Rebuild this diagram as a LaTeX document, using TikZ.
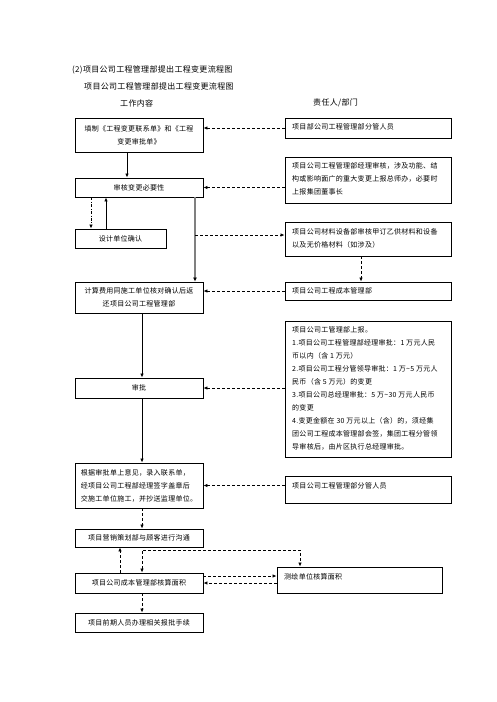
\documentclass[tikz,border=0pt]{standalone}
\usepackage{fontspec}
\newfontfamily\cjk[LetterSpace=4]{Noto Sans CJK SC}
\usetikzlibrary{arrows.meta}
\begin{document}
\begin{tikzpicture}[x=1pt,y=-1pt,
  box/.style={draw, line width=0.9pt, inner sep=0pt},
  txt/.style={font=\cjk\fontsize{7}{13}\selectfont, inner sep=0pt},
  ttl/.style={font=\cjk\fontsize{8}{10}\selectfont, inner sep=0pt, anchor=west},
  arr/.style={-{Latex[length=4pt,width=3.5pt]}, line width=0.8pt},
  dsh/.style={arr, dash pattern=on 3pt off 2pt},
  ddot/.style={arr, dash pattern=on 3pt off 1.5pt on 0.8pt off 1.5pt},
  gry/.style={arr, line width=2pt, draw=black!50, -{Latex[length=4pt,width=4pt,color=black]}}]
\useasboundingbox (0,0) rectangle (496,702);

% titles
\node[ttl] (t1) at (72,70) {(2)项目公司工程管理部提出工程变更流程图};
\node[ttl] (t2) at (84,86) {项目公司工程管理部提出工程变更流程图};
\node[ttl] (h1) at (120,103) {工作内容};
\node[ttl] (h2) at (313,103) {责任人/部门};

% left column
\node[box, txt, align=center, minimum width=128, minimum height=34] (L1) at (139,135)
  {填制《工程变更联系单》和《工程\\变更审批单》};
\node[box, txt, minimum width=128, minimum height=19] (L2) at (139,187.5) {审核变更必要性};
\node[box, txt, minimum width=91, minimum height=19] (L3) at (120.5,238.5) {设计单位确认};
\node[box, txt, align=center, minimum width=128, minimum height=31] (L4) at (139,297.5)
  {计算费用同施工单位核对确认后返\\还项目公司工程管理部};
\node[box, txt, minimum width=128, minimum height=20] (L5) at (139,388) {审批};
\node[box, txt, align=left, minimum width=128, minimum height=45] (L6) at (139,485.5)
  {根据审批单上意见，录入联系单，\\经项目公司工程部经理签字盖章后\\交施工单位施工，并抄送监理单位。};
\node[box, txt, minimum width=128, minimum height=18] (L7) at (139,538) {项目营销策划部与顾客进行沟通};
\node[box, txt, minimum width=128, minimum height=20] (L8) at (139,583) {项目公司成本管理部核算面积};
\node[box, txt, minimum width=128, minimum height=19] (L9) at (139,622.5) {项目前期人员办理相关报批手续};

% right column boxes
\node[box, minimum width=166, minimum height=20] (R1) at (368,128) {};
\node[box, minimum width=166, minimum height=46] (R2) at (368,180) {};
\node[box, minimum width=166, minimum height=34] (R3) at (368,239) {};
\node[box, minimum width=166, minimum height=18] (R4) at (368,291) {};
\node[box, minimum width=166, minimum height=136] (R5) at (368,389) {};
\node[box, minimum width=166, minimum height=27] (R6) at (368,489.5) {};
\node[box, minimum width=165, minimum height=26] (R7) at (359.5,580) {};

% right column texts
\node[txt, anchor=west] (R1t) at (292,127) {项目部公司工程管理部分管人员};
\node[txt, anchor=west, align=left] (R2t) at (292,179)
  {项目公司工程管理部经理审核，涉及功能、结\\构或影响面广的重大变更上报总师办，必要时\\上报集团董事长};
\node[txt, anchor=west, align=left] (R3t) at (292,238.5)
  {项目公司材料设备部审核甲订乙供材料和设备\\以及无价格材料（如涉及）};
\node[txt, anchor=west] (R4t) at (292,291) {项目公司工程成本管理部};
\node[txt, anchor=west, align=left] (R5t) at (292,388)
  {项目公司工管理部上报。\\
   1.项目公司工程管理部经理审批：1 万元人民\\
   币以内（含 1 万元）\\
   2.项目公司工程分管领导审批：1 万\textasciitilde 5 万元人\\
   民币（含 5 万元）的变更\\
   3.项目公司总经理审批：5 万\textasciitilde 30 万元人民币\\
   的变更\\
   4.变更金额在 30 万元以上（含）的，须经集\\
   团公司工程成本管理部会签，集团工程分管领\\
   导审核后，由片区执行总经理审批。};
\node[txt, anchor=west] (R6t) at (292,486) {项目公司工程管理部分管人员};
\node[txt, anchor=west] (R7t) at (284,577) {测绘单位核算面积};

% connectors
\draw[dsh] (R1.west) -- (R1.west -| L1.east);
\draw[arr] (127,0 |- L1.south) -- (127,0 |- L2.north);
\draw[dsh] (R2.west |- L2.east) -- (L2.east);
\draw[ddot] (91,0 |- L2.south) -- (91,0 |- L3.north);
\draw[arr] (106,0 |- L3.north) -- (106,0 |- L2.south);
\draw[gry] (195,0 |- L2.south) -- (195,0 |- L4.north);
\coordinate (G) at (195,235);
\draw[dsh] (G) -- (G -| R3.west);
\draw[dsh] (361,0 |- R3.south) -- (361,0 |- R4.north);
\draw[dsh] (R4.west) -- (R4.west -| L4.east);
\draw[arr] (142,0 |- L4.south) -- (142,0 |- L5.north);
\draw[dsh] (R5.west |- L5.east) -- (L5.east);
\draw[arr] (142,0 |- L5.south) -- (142,0 |- L6.north);
\draw[dsh] (R6.west |- L6.east) -- (L6.east);
\draw[dsh] (142,0 |- L6.south) -- (142,0 |- L7.north);
\draw[dsh] (120,0 |- L8.north) -- (120,0 |- L7.south);
\coordinate (J1) at (142,550);
\coordinate (J2) at (300,550);
\draw[dsh, {Latex[length=4pt,width=3.5pt]}-{Latex[length=4pt,width=3.5pt]}]
  (142,0 |- L8.north) -- (J1) -- (J2) -- (J2 |- R7.north);
\draw[dsh] (L8.east |- 0,576) -- (R7.west |- 0,576);
\draw[dsh] (R7.west |- 0,583) -- (L8.east |- 0,583);
\draw[dsh] (142,0 |- L8.south) -- (142,0 |- L9.north);
\end{tikzpicture}
\end{document}
